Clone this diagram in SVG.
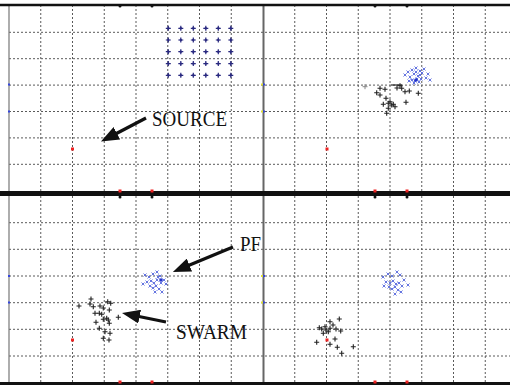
<svg xmlns="http://www.w3.org/2000/svg" width="510" height="385" viewBox="0 0 510 385">
<style>
.grid{stroke:#5a5a5a;stroke-width:1;stroke-dasharray:2,2;fill:none}
.lbl{font-family:"Liberation Serif","Times New Roman",serif;font-size:21px;fill:#111}
.arr{stroke:#111;stroke-width:3.2;fill:none;marker-end:url(#ah)}
.blk{stroke:#222;stroke-width:1.1;fill:none}
.blu{stroke:#5566dd;stroke-width:0.9;fill:none}
.star{stroke:#2a2a80;stroke-width:1.2;fill:none}
</style>
<defs>
<marker id="ah" markerUnits="userSpaceOnUse" markerWidth="18" markerHeight="14" refX="7" refY="7" orient="auto"><path d="M0,0L18,7L0,14z" fill="#111"/></marker>
<path id="pl" d="M-2.5,0H2.5M0,-2.5V2.5"/>
<path id="xx" d="M-1.5,-1.5L1.5,1.5M-1.5,1.5L1.5,-1.5"/>
<g id="st"><path d="M-2.5,0H2.5M0,-2.5V2.5"/><circle r="1.2" fill="#2a2a80" stroke="none"/></g>
</defs>
<rect width="510" height="385" fill="#fff"/>
<!-- grid -->
<path class="grid" d="M40.75,5V193M72.5,5V193M104.25,5V193M136,5V193M167.75,5V193M199.5,5V193M231.25,5V193M294.75,5V193M326.5,5V193M358.25,5V193M390,5V193M421.75,5V193M453.5,5V193M485.25,5V193
M40.75,196V383M72.5,196V383M104.25,196V383M136,196V383M167.75,196V383M199.5,196V383M231.25,196V383M294.75,196V383M326.5,196V383M358.25,196V383M390,196V383M421.75,196V383M453.5,196V383M485.25,196V383
M9,32.3H510M9,58.7H510M9,85.1H510M9,111.5H510M9,137.9H510M9,164.3H510
M9,222.7H510M9,249.3H510M9,276H510M9,302.7H510M9,329.3H510M9,356H510"/>
<!-- frames -->
<line x1="9" y1="5" x2="9" y2="385" stroke="#777" stroke-width="1.2"/>
<line x1="263.5" y1="5" x2="263.5" y2="385" stroke="#666" stroke-width="2"/>
<line x1="0" y1="5" x2="510" y2="5" stroke="#111" stroke-width="2.5"/>
<line x1="0" y1="193.5" x2="510" y2="193.5" stroke="#111" stroke-width="5"/>
<line x1="0" y1="383.5" x2="510" y2="383.5" stroke="#111" stroke-width="3"/>
<!-- edge dots -->
<g fill="#e22">
<rect x="118.5" y="189.5" width="3" height="3"/><rect x="150.5" y="189.5" width="3" height="3"/>
<rect x="373.5" y="189.5" width="3" height="3"/><rect x="405.5" y="189.5" width="3" height="3"/>
<rect x="118.5" y="380.5" width="3" height="3"/><rect x="150.5" y="380.5" width="3" height="3"/>
<rect x="373.5" y="380.5" width="3" height="3"/><rect x="405.5" y="380.5" width="3" height="3"/>
<rect x="71" y="147.5" width="3" height="3"/><rect x="325.5" y="147.5" width="3" height="3"/>
<rect x="71" y="338.5" width="3" height="3"/><rect x="325.5" y="338.5" width="3" height="3"/>
</g>
<g fill="#111">
<circle cx="120" cy="6" r="1.5"/><circle cx="152" cy="6" r="1.5"/><circle cx="375" cy="6" r="1.5"/><circle cx="407" cy="6" r="1.5"/>
<circle cx="120" cy="197" r="1.5"/><circle cx="152" cy="197" r="1.5"/><circle cx="375" cy="197" r="1.5"/><circle cx="407" cy="197" r="1.5"/>
</g>
<g fill="#3344dd">
<rect x="8" y="83.5" width="2" height="2"/><rect x="8" y="110.5" width="2" height="2"/>
<rect x="8" y="275" width="2" height="2"/><rect x="8" y="301.5" width="2" height="2"/>
<rect x="263" y="83.5" width="2" height="2"/><rect x="263" y="110.5" width="2" height="2"/>
<rect x="263" y="275" width="2" height="2"/><rect x="263" y="301.5" width="2" height="2"/>
</g>
<g fill="#dd3">
<rect x="261" y="83.5" width="2" height="2"/><rect x="261" y="110.5" width="2" height="2"/>
<rect x="261" y="275" width="2" height="2"/><rect x="261" y="301.5" width="2" height="2"/>
</g>
<!-- star grid (initial particles) -->
<g id="initial" class="star">
<use href="#st" x="168.3" y="28.3"/><use href="#st" x="180.8" y="28.3"/><use href="#st" x="193.3" y="28.3"/><use href="#st" x="205.8" y="28.3"/><use href="#st" x="218.3" y="28.3"/><use href="#st" x="230.8" y="28.3"/>
<use href="#st" x="168.3" y="40"/><use href="#st" x="180.8" y="40"/><use href="#st" x="193.3" y="40"/><use href="#st" x="205.8" y="40"/><use href="#st" x="218.3" y="40"/><use href="#st" x="230.8" y="40"/>
<use href="#st" x="168.3" y="51.7"/><use href="#st" x="180.8" y="51.7"/><use href="#st" x="193.3" y="51.7"/><use href="#st" x="205.8" y="51.7"/><use href="#st" x="218.3" y="51.7"/><use href="#st" x="230.8" y="51.7"/>
<use href="#st" x="168.3" y="63.6"/><use href="#st" x="180.8" y="63.6"/><use href="#st" x="193.3" y="63.6"/><use href="#st" x="205.8" y="63.6"/><use href="#st" x="218.3" y="63.6"/><use href="#st" x="230.8" y="63.6"/>
<use href="#st" x="168.3" y="75.3"/><use href="#st" x="180.8" y="75.3"/><use href="#st" x="193.3" y="75.3"/><use href="#st" x="205.8" y="75.3"/><use href="#st" x="218.3" y="75.3"/><use href="#st" x="230.8" y="75.3"/>
</g>
<!-- PF clusters -->
<g id="pf-tr" class="blu">
<use href="#xx" x="408" y="72"/><use href="#xx" x="412" y="70"/><use href="#xx" x="416" y="68"/><use href="#xx" x="420" y="71"/><use href="#xx" x="424" y="69"/><use href="#xx" x="428" y="74"/>
<use href="#xx" x="405" y="75"/><use href="#xx" x="410" y="77"/><use href="#xx" x="414" y="74"/><use href="#xx" x="418" y="76"/><use href="#xx" x="422" y="73"/><use href="#xx" x="426" y="78"/>
<use href="#xx" x="412" y="80"/><use href="#xx" x="415" y="81"/><use href="#xx" x="417" y="79"/><use href="#xx" x="419" y="82"/><use href="#xx" x="414" y="83"/><use href="#xx" x="421" y="79"/>
<use href="#xx" x="409" y="81"/><use href="#xx" x="430" y="80"/><use href="#xx" x="416" y="72"/><use href="#xx" x="420" y="75"/>
</g>
<circle cx="416" cy="80" r="1.8" fill="#2233cc"/>
<g id="pf-bl" class="blu">
<use href="#xx" x="145" y="275"/><use href="#xx" x="149" y="277"/><use href="#xx" x="153" y="274"/><use href="#xx" x="157" y="272"/><use href="#xx" x="160" y="276"/><use href="#xx" x="164" y="280"/>
<use href="#xx" x="147" y="282"/><use href="#xx" x="151" y="281"/><use href="#xx" x="154" y="283"/><use href="#xx" x="157" y="280"/><use href="#xx" x="161" y="283"/><use href="#xx" x="166" y="284"/>
<use href="#xx" x="150" y="286"/><use href="#xx" x="153" y="288"/><use href="#xx" x="156" y="286"/><use href="#xx" x="159" y="289"/><use href="#xx" x="162" y="292"/><use href="#xx" x="155" y="292"/>
<use href="#xx" x="143" y="284"/><use href="#xx" x="158" y="277"/>
</g>
<circle cx="161" cy="280" r="1.8" fill="#2233cc"/>
<g id="pf-br" class="blu">
<use href="#xx" x="383" y="277"/><use href="#xx" x="388" y="274"/><use href="#xx" x="392" y="276"/><use href="#xx" x="397" y="272"/><use href="#xx" x="400" y="275"/><use href="#xx" x="404" y="280"/>
<use href="#xx" x="386" y="282"/><use href="#xx" x="390" y="283"/><use href="#xx" x="393" y="281"/><use href="#xx" x="396" y="284"/><use href="#xx" x="399" y="283"/><use href="#xx" x="402" y="286"/>
<use href="#xx" x="389" y="287"/><use href="#xx" x="392" y="289"/><use href="#xx" x="395" y="287"/><use href="#xx" x="398" y="290"/><use href="#xx" x="395" y="294"/><use href="#xx" x="408" y="285"/>
<use href="#xx" x="384" y="286"/><use href="#xx" x="401" y="292"/>
</g>
<!-- swarm clusters -->
<g id="swarm-tr" class="blk">
<use href="#pl" x="380" y="88.3"/><use href="#pl" x="385" y="89.3"/><use href="#pl" x="376.7" y="92.7"/><use href="#pl" x="380" y="95"/><use href="#pl" x="386" y="98.3"/>
<use href="#pl" x="400" y="85.7"/><use href="#pl" x="401.7" y="88.3"/><use href="#pl" x="405" y="91.7"/><use href="#pl" x="409.3" y="91"/><use href="#pl" x="418.3" y="93.3"/><use href="#pl" x="406" y="102.3"/>
<use href="#pl" x="388.3" y="103.3"/><use href="#pl" x="391.7" y="105"/><use href="#pl" x="390" y="101.7"/><use href="#pl" x="383.3" y="104.3"/><use href="#pl" x="395" y="106.7"/><use href="#pl" x="388.3" y="108.3"/>
<use href="#pl" x="386.7" y="113.3"/><use href="#pl" x="393.3" y="104.3"/><use href="#pl" x="397" y="88"/>
</g>
<path d="M391,85H402" stroke="#222" stroke-width="1.2"/>
<use href="#pl" x="365" y="86.7" stroke="#888" stroke-width="1" fill="none"/>
<g id="swarm-bl" class="blk">
<use href="#pl" x="79" y="306"/><use href="#pl" x="91" y="299"/><use href="#pl" x="90" y="304"/><use href="#pl" x="93.3" y="306.7"/><use href="#pl" x="100" y="306"/><use href="#pl" x="103.3" y="308"/>
<use href="#pl" x="107.7" y="301.7"/><use href="#pl" x="110.7" y="303.3"/><use href="#pl" x="95" y="313.3"/><use href="#pl" x="99.3" y="313.3"/><use href="#pl" x="101.7" y="314.3"/><use href="#pl" x="109.3" y="310"/>
<use href="#pl" x="96" y="322.3"/><use href="#pl" x="103.3" y="319.3"/><use href="#pl" x="108.3" y="320"/><use href="#pl" x="109.3" y="323.3"/><use href="#pl" x="118.3" y="317.3"/><use href="#pl" x="99.3" y="328.3"/>
<use href="#pl" x="105" y="331.7"/><use href="#pl" x="110" y="333.3"/><use href="#pl" x="103.3" y="338.3"/><use href="#pl" x="109" y="340"/><use href="#pl" x="106.7" y="318.3"/>
</g>
<g id="swarm-br" class="blk">
<use href="#pl" x="339.3" y="319"/><use href="#pl" x="330" y="321.7"/><use href="#pl" x="325" y="326.7"/><use href="#pl" x="321.7" y="329"/><use href="#pl" x="330" y="328.3"/><use href="#pl" x="336" y="329"/>
<use href="#pl" x="340.7" y="331"/><use href="#pl" x="323.3" y="333.3"/><use href="#pl" x="335" y="339"/><use href="#pl" x="316.7" y="342.3"/><use href="#pl" x="330" y="344.3"/><use href="#pl" x="337.3" y="347.3"/>
<use href="#pl" x="341.7" y="353.3"/><use href="#pl" x="353.3" y="346.7"/><use href="#pl" x="319.3" y="327.7"/><use href="#pl" x="328.3" y="331.7"/><use href="#pl" x="333" y="325"/><use href="#pl" x="326" y="330"/>
</g>
<!-- connectors -->
<g id="connectors">
<line class="arr" x1="146" y1="118" x2="110.7" y2="136.5"/>
<line class="arr" x1="233" y1="247" x2="183" y2="267.8"/>
<line class="arr" x1="166" y1="322" x2="132.8" y2="315.2"/>
</g>
<!-- labels -->
<g id="source"><text class="lbl" x="152" y="126" textLength="75" lengthAdjust="spacingAndGlyphs">SOURCE</text></g>
<g id="pf"><text class="lbl" x="240" y="251" textLength="21" lengthAdjust="spacingAndGlyphs">PF</text></g>
<g id="swarm"><text class="lbl" x="176" y="339" textLength="71" lengthAdjust="spacingAndGlyphs">SWARM</text></g>
</svg>
